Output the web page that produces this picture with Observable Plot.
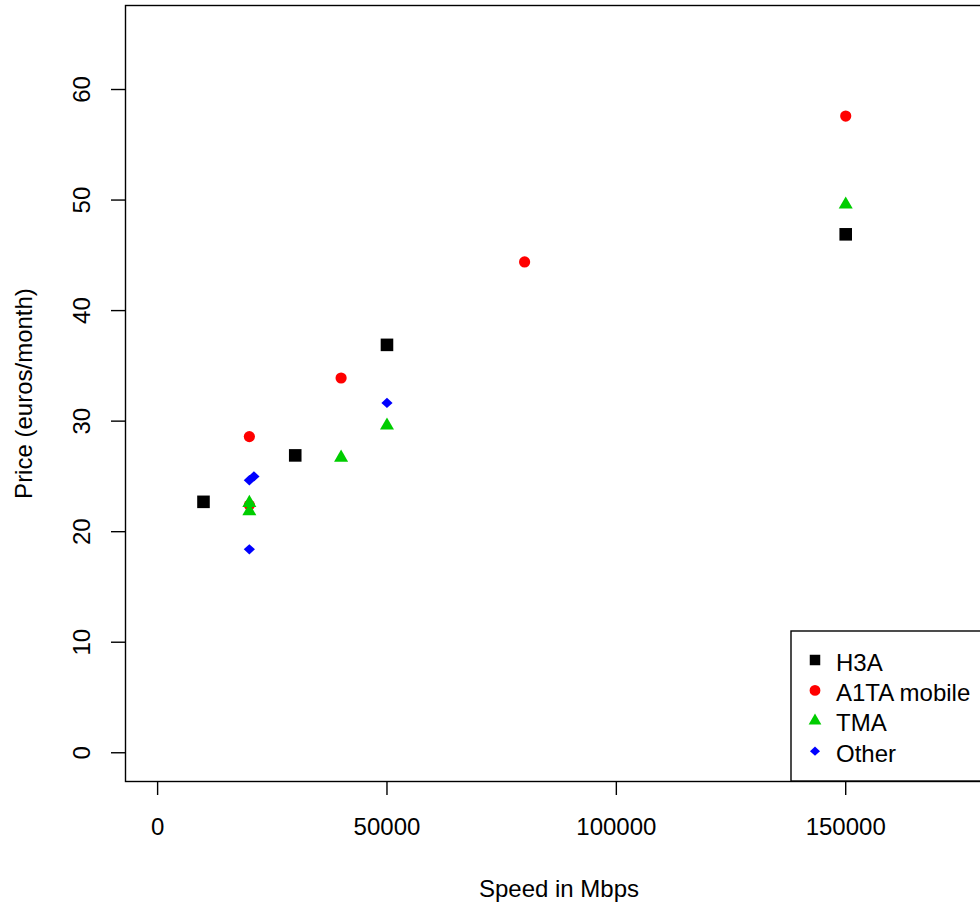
<!DOCTYPE html>
<html>
<head>
<meta charset="utf-8">
<script src="https://cdn.jsdelivr.net/npm/d3@7"></script>
<script src="https://cdn.jsdelivr.net/npm/@observablehq/plot@0.6"></script>
<style>
  html, body { margin: 0; padding: 0; background: white; overflow: hidden; }
  #chart svg { display: block; }
</style>
</head>
<body>
<div id="chart"></div>
<script>
// ---- data ----
const groups = ["H3A", "A1TA mobile", "TMA", "Other"];
const colors = ["#000000", "#FF0000", "#00CD00", "#0000FF"];

const h3aSpeed = [10000, 30000, 50000, 150000];
const h3aPrice = [22.7, 26.9, 36.9, 46.9];

const a1taSpeed = [20000, 20000, 40000, 80000, 150000];
const a1taPrice = [22.4, 28.6, 33.9, 44.4, 57.6];

const tmaSpeed = [20000, 20000, 40000, 50000, 150000];
const tmaPrice = [22.6, 21.85, 26.7, 29.6, 49.6];

const otherSpeed = [20000, 20000, 21000, 50000];
const otherPrice = [18.4, 24.65, 25.0, 31.65];

const xTicks = [0, 50000, 100000, 150000];
const yTicks = [0, 10, 20, 30, 40, 50, 60];

const xLabel = "Speed in Mbps";
const yLabel = "Price (euros/month)";

// ---- symbols (R pch 15,16,17,18) ----
const diamond = {
  draw(context, size) {
    const r = Math.sqrt(size / Math.PI);
    const w = r, h = r * 0.92;
    context.moveTo(0, -h);
    context.lineTo(w, 0);
    context.lineTo(0, h);
    context.lineTo(-w, 0);
    context.closePath();
  }
};
const symbols = [d3.symbolSquare, d3.symbolCircle, d3.symbolTriangle, diamond];
const plotR = [7.1, 5.6, 5.2, 5.6];

const series = [
  [h3aSpeed, h3aPrice],
  [a1taSpeed, a1taPrice],
  [tmaSpeed, tmaPrice],
  [otherSpeed, otherPrice]
].map(([xs, ys], i) => xs.map((s, j) => ({speed: s, price: ys[j], group: groups[i]})));

const font = "'Liberation Sans', Arial, Helvetica, sans-serif";

const plot = Plot.plot({
  width: 980,
  height: 904,
  marginLeft: 125,
  marginTop: 5,
  marginBottom: 123,
  marginRight: -12,
  style: {fontFamily: font, fontSize: "24px", color: "#000", background: "white"},
  x: {domain: [-7000, 182000]},
  y: {domain: [-2.6, 67.6]},
  marks: [
    Plot.frame({stroke: "#000", strokeWidth: 1.4}),
    Plot.axisX({ticks: xTicks, tickSize: 14, tickPadding: 22, strokeWidth: 1.4,
      tickFormat: d3.format("d"), fontSize: 24, label: null}),
    Plot.axisY({ticks: yTicks, tickSize: 14, strokeWidth: 1.4,
      tickFormat: () => "", label: null}),
    Plot.text(yTicks, {y: d => d, text: d => String(d), frameAnchor: "left", dx: -43,
      rotate: -90, textAnchor: "middle", lineAnchor: "middle", fontSize: 24}),
    Plot.text([xLabel], {text: d => d, frameAnchor: "bottom", dy: 108,
      lineAnchor: "middle", fontSize: 24}),
    Plot.text([yLabel], {text: d => d, frameAnchor: "left", dx: -101,
      rotate: -90, textAnchor: "middle", lineAnchor: "middle", fontSize: 24}),
    ...series.map((data, i) => Plot.dot(data, {
      x: "speed", y: "price", symbol: symbols[i], r: plotR[i],
      fill: colors[i], stroke: "none"
    }))
  ]
});

// ---- legend (bottom-right, inside the plot region like R's legend) ----
const xr = plot.scale("x").range[1];
const yb = plot.scale("y").range[0];
const boxW = 201, boxH = 150;
const bx = xr - boxW, by = yb - boxH;
const lg = d3.select(plot).append("g")
  .attr("font-family", font).attr("font-size", 24).attr("text-anchor", "start");
lg.append("rect").attr("x", bx).attr("y", by).attr("width", boxW).attr("height", boxH)
  .attr("fill", "white").attr("stroke", "#000").attr("stroke-width", 1.4);
const legendSizes = [110, 92, 70, 80];
groups.forEach((g, i) => {
  const cy = by + 29 + 30.4 * i;
  lg.append("path")
    .attr("d", d3.symbol(symbols[i], legendSizes[i])())
    .attr("transform", `translate(${bx + 24},${cy})`)
    .attr("fill", colors[i]);
  lg.append("text").attr("x", bx + 45).attr("y", cy + 10.5)
    .attr("text-anchor", "start").attr("fill", "#000").text(g);
});

document.getElementById("chart").appendChild(plot);
</script>
</body>
</html>
